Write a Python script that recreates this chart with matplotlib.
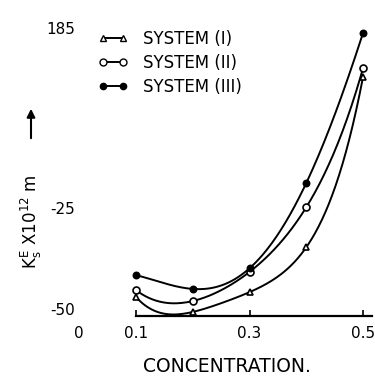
import numpy as np
import matplotlib
matplotlib.use('Agg')
import matplotlib.pyplot as plt
from matplotlib.lines import Line2D

plt.rcParams['font.family'] = ['DejaVu Sans']

# values (arbitrary K units, -50 / -25 grid)
conc = [0.1, 0.2, 0.3, 0.4, 0.5]
sys1 = [-47.0, -50.7, -45.8, -34.7, 7.4]     # triangles
sys2 = [-45.3, -48.0, -40.8, -24.8, 9.6]     # open circles
sys3 = [-41.6, -45.0, -39.9, -18.8, 18.3]    # filled dots
xtick_vals = [0, 0.1, 0.2, 0.3, 0.5]
xtick_text = ['0', '0.1', '', '0.3', '0.5']
ytick_vals = [-50, -25, 19.5]
ytick_text = ['-50', '-25', '185']

fig = plt.figure(figsize=(3.75, 3.77), dpi=100)
ax = fig.add_axes([0.2113, 0.1618, 0.787, 0.7687])

xs = np.linspace(0.1, 0.5, 200)
series = [
    (sys1, dict(marker='^', mfc='white', mec='k', ms=5)),
    (sys2, dict(marker='o', mfc='white', mec='k', ms=5)),
    (sys3, dict(marker='o', mfc='k', mec='k', ms=4.5)),
]
for vals, mk in series:
    coef = np.polyfit(conc, vals, 4)
    ax.plot(xs, np.polyval(coef, xs), color='k', lw=1.4)
    ax.plot(conc, vals, ls='none', mew=1.2, **mk)

ax.set_xlim(0, 0.52)
ax.set_ylim(-51.7, 20)

for s in ['top', 'right', 'left']:
    ax.spines[s].set_visible(False)
ax.spines['bottom'].set_bounds(0.1, 0.515)
ax.spines['bottom'].set_linewidth(1.6)

ax.set_xticks(xtick_vals)
ax.set_xticklabels(xtick_text, fontsize=11)
ax.tick_params(axis='x', direction='in', length=4, width=1.2, pad=7)
ax.xaxis.get_major_ticks()[0].tick1line.set_visible(False)

ax.set_yticks(ytick_vals)
ax.set_yticklabels(ytick_text, fontsize=11)
ax.tick_params(axis='y', length=0, pad=3)

ax.set_xlabel('CONCENTRATION.', fontsize=13.5, labelpad=12)

fig.text(31 / 375, 1 - 222 / 377, r'$\mathrm{K_s^E\ X10^{12}\ m}$',
         rotation=90, ha='center', va='center', fontsize=12)
ax.annotate('', xy=(31 / 375, 1 - 106 / 377), xytext=(31 / 375, 1 - 141 / 377),
            xycoords='figure fraction',
            arrowprops=dict(arrowstyle='-|>', lw=1.5, color='k', mutation_scale=12))

handles = [
    Line2D([], [], color='k', lw=1.4, marker='^', mfc='white', mec='k', ms=5),
    Line2D([], [], color='k', lw=1.4, marker='o', mfc='white', mec='k', ms=5),
    Line2D([], [], color='k', lw=1.4, marker='o', mfc='k', mec='k', ms=4.5),
]
ax.legend(handles, ['SYSTEM (I)', 'SYSTEM (II)', 'SYSTEM (III)'],
          loc='upper left', bbox_to_anchor=(98 / 375, 1 - 30 / 377),
          bbox_transform=fig.transFigure, frameon=False, numpoints=2,
          handlelength=1.8, handletextpad=0.9, labelspacing=0.35,
          borderpad=0, borderaxespad=0, fontsize=12)

fig.savefig('out.png', dpi=100)
